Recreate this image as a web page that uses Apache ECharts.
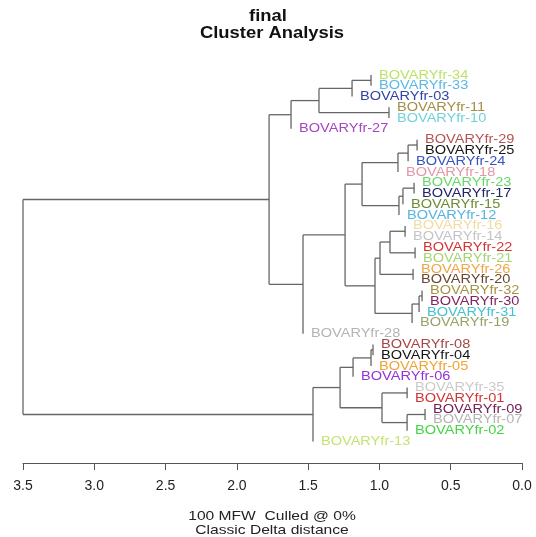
<!DOCTYPE html>
<html>
<head>
<meta charset="utf-8">
<script src="https://cdn.jsdelivr.net/npm/echarts@6/dist/echarts.min.js"></script>
<style>
html,body{margin:0;padding:0;background:#fff;}
#chart{width:536px;height:537px;}
</style>
</head>
<body>
<div id="chart"></div>
<script>
// leaf order, top to bottom
var leafNames = ['34','33','03','11','10','27','29','25','24','18','23','17','15','12',
  '16','14','22','21','26','20','32','30','31','19','28','08','04','05','06','35',
  '01','09','07','02','13'];
var leafColors = ['#bde26a','#5bb8e3','#3243a6','#a48d45','#72d2da','#a646c4','#b45454','#151515',
  '#3553c2','#e596a6','#68d868','#22246a','#6e8c34','#56b4e2','#f0dca2','#c4c4c4','#d43434',
  '#a6d474','#f2a444','#684632','#a69444','#84245e','#44c2d2','#94a464','#b4b4b4','#a84646',
  '#151515','#f2a434','#9434d4','#cacaca','#d43434','#742254','#b4b4b4','#44d444','#c4e474'];
// merges: [left, right, height]; string = leaf, number = earlier merge
var merges = [
  ['34','33',1.059],
  [0,'03',1.192],
  ['11','10',0.933],
  [1,2,1.424],
  [3,'27',1.620],
  ['29','25',0.736],
  [5,'24',0.799],
  [6,'18',0.870],
  ['23','17',0.757],
  [8,'15',0.835],
  [9,'12',0.863],
  [7,10,1.122],
  ['16','14',0.820],
  ['22','21',0.750],
  [12,13,0.926],
  ['26','20',0.764],
  [14,15,0.996],
  ['32','30',0.701],
  [17,'31',0.722],
  [18,'19',0.771],
  [16,19,1.031],
  [11,20,1.241],
  [21,'28',1.536],
  [4,22,1.774],
  ['08','04',1.045],
  [24,'05',1.059],
  [25,'06',1.185],
  ['35','01',0.806],
  ['09','07',0.680],
  [28,'02',0.806],
  [27,29,0.982],
  [26,30,1.276],
  [31,'13',1.466],
  [23,32,3.5]
];

var pos = {};
leafNames.forEach(function(n,i){ pos[n]=i; });
var nodes = [], segs = [], leafPts = [];
merges.forEach(function(m){
  var h = m[2];
  var ch = [m[0], m[1]].map(function(c){
    if (typeof c === 'string') {
      leafPts.push([h, pos[c]]);
      return {y: pos[c], h: h};
    }
    return nodes[c];
  });
  ch.forEach(function(c){
    if (c.h !== h) segs.push([h, c.y, c.h, c.y]);
  });
  segs.push([h, ch[0].y, h, ch[1].y]);
  nodes.push({y: (ch[0].y + ch[1].y) / 2, h: h});
});

var font = '"Liberation Sans", Arial, Helvetica, sans-serif';
var myChart = echarts.init(document.getElementById('chart'));
var option = {
  backgroundColor: '#fff',
  animation: false,
  grid: {left: 23, right: 14, top: 64.2, bottom: 74},
  xAxis: {
    type: 'value', position: 'bottom', inverse: true, min: 0, max: 3.5, interval: 0.5,
    axisLine: {show: true, onZero: false, lineStyle: {color: '#555', width: 1}},
    axisTick: {show: true, inside: false, length: 7, lineStyle: {color: '#555'}},
    axisLabel: {color: '#222', fontSize: 14, fontFamily: font, margin: 16,
      formatter: function(v){ return v.toFixed(1); }},
    splitLine: {show: false}
  },
  yAxis: {type: 'value', inverse: true, min: -1, max: 36, show: false},
  graphic: [
    {type:'text', x:268, y:17, scaleX:1.15, style:{text:'final', font:'bold 16px '+font, fill:'#111', textAlign:'center', verticalAlign:'middle'}},
    {type:'text', x:272, y:34, scaleX:1.15, style:{text:'Cluster Analysis', font:'bold 16px '+font, fill:'#111', textAlign:'center', verticalAlign:'middle'}},
    {type:'text', x:272, y:516, scaleX:1.2, style:{text:'100 MFW  Culled @ 0%', font:'13px '+font, fill:'#222', textAlign:'center', verticalAlign:'middle'}},
    {type:'text', x:272, y:530, scaleX:1.2, style:{text:'Classic Delta distance', font:'13px '+font, fill:'#222', textAlign:'center', verticalAlign:'middle'}}
  ],
  series: [
    {
      type: 'custom',
      data: segs,
      renderItem: function(params, api){
        var a = api.coord([api.value(0), api.value(1)]);
        var b = api.coord([api.value(2), api.value(3)]);
        return {type:'line', shape:{x1:a[0], y1:a[1], x2:b[0], y2:b[1]},
          style:{stroke:'#666', lineWidth:1.3}};
      }
    },
    {
      type: 'custom',
      data: leafPts,
      renderItem: function(params, api){
        var p = api.coord([api.value(0), api.value(1)]);
        var i = api.value(1);
        return {type:'text', x:p[0]+8, y:p[1], scaleX:1.12,
          style:{text:'BOVARYfr-'+leafNames[i], fill:leafColors[i], font:'13px '+font,
            textAlign:'left', verticalAlign:'middle'}};
      }
    }
  ]
};
myChart.setOption(option);
</script>
</body>
</html>
